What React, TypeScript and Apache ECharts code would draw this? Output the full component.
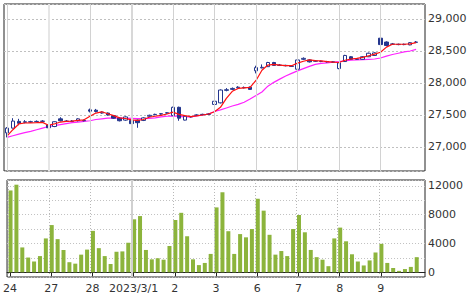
import React, { useEffect, useRef } from 'react';
import * as echarts from 'echarts';

const days = ['2/24', '2/27', '2/28', '3/1', '3/2', '3/3', '3/6', '3/7', '3/8', '3/9'];
const dayLabels = ['24', '27', '28', '2023/3/1', '2', '3', '6', '7', '8', '9'];
const slotsPerDay = 7;

// [open, close, low, high]
const candles: number[][] = [
  [27220, 27295, 27150, 27310], [27295, 27405, 27290, 27450], [27400, 27370, 27340, 27440], [27385, 27395, 27370, 27420],
  [27390, 27395, 27375, 27410], [27395, 27400, 27385, 27415], [27400, 27405, 27390, 27420],
  [27345, 27300, 27280, 27355], [27320, 27395, 27310, 27400], [27440, 27410, 27400, 27465], [27405, 27400, 27390, 27420],
  [27400, 27405, 27390, 27420], [27410, 27440, 27400, 27450], [27415, 27410, 27400, 27430],
  [27580, 27560, 27540, 27600], [27575, 27555, 27540, 27595], [27530, 27545, 27520, 27555], [27530, 27500, 27490, 27540],
  [27490, 27450, 27440, 27500], [27450, 27410, 27400, 27460], [27420, 27470, 27410, 27480],
  [27415, 27365, 27290, 27425], [27420, 27380, 27300, 27430], [27415, 27455, 27405, 27465], [27480, 27495, 27470, 27505],
  [27505, 27510, 27495, 27520], [27515, 27520, 27505, 27530], [27530, 27535, 27520, 27545],
  [27490, 27620, 27485, 27630], [27620, 27450, 27410, 27630], [27420, 27480, 27415, 27490], [27470, 27475, 27460, 27485],
  [27495, 27500, 27485, 27510], [27505, 27510, 27495, 27520], [27510, 27515, 27500, 27525],
  [27665, 27715, 27650, 27725], [27690, 27890, 27680, 27900], [27885, 27895, 27870, 27920], [27900, 27915, 27890, 27930],
  [27925, 27935, 27915, 27950], [27925, 27930, 27915, 27945], [27935, 27900, 27895, 27945],
  [28190, 28240, 28150, 28270], [28235, 28245, 28230, 28290], [28255, 28320, 28250, 28330], [28320, 28275, 28270, 28330],
  [28275, 28280, 28265, 28295], [28270, 28275, 28260, 28285], [28265, 28260, 28250, 28275],
  [28215, 28360, 28205, 28370], [28370, 28385, 28360, 28400], [28360, 28330, 28320, 28370], [28340, 28345, 28330, 28355],
  [28335, 28340, 28325, 28350], [28330, 28335, 28320, 28345], [28325, 28330, 28315, 28340],
  [28225, 28315, 28215, 28325], [28335, 28430, 28330, 28440], [28410, 28370, 28360, 28420], [28370, 28375, 28360, 28385],
  [28370, 28410, 28365, 28420], [28410, 28465, 28405, 28475], [28430, 28470, 28425, 28480],
  [28700, 28600, 28500, 28750], [28640, 28585, 28575, 28650], [28605, 28610, 28595, 28625], [28600, 28605, 28590, 28615],
  [28600, 28605, 28590, 28615], [28595, 28630, 28590, 28640], [28635, 28640, 28625, 28655],
];

const maShort = [
  27170, 27270, 27360, 27375, 27378, 27380, 27385,
  27340, 27360, 27390, 27400, 27405, 27415, 27425,
  27480, 27530, 27550, 27520, 27490, 27455, 27445,
  27425, 27415, 27430, 27465, 27480, 27495, 27515,
  27545, 27510, 27490, 27475, 27485, 27500, 27515,
  27550, 27620, 27760, 27870, 27915, 27925, 27930,
  28040, 28200, 28280, 28290, 28280, 28270, 28270,
  28310, 28340, 28360, 28350, 28345, 28335, 28325,
  28320, 28355, 28375, 28385, 28400, 28425, 28450,
  28480, 28560, 28605, 28605, 28605, 28610, 28630,
];

const maLong = [
  27150, 27175, 27200, 27225, 27245, 27270, 27295,
  27320, 27335, 27350, 27365, 27380, 27390, 27400,
  27410, 27430, 27440, 27450, 27452, 27452, 27450,
  27448, 27445, 27442, 27445, 27455, 27470, 27480,
  27485, 27478, 27470, 27472, 27485, 27500, 27515,
  27555, 27580, 27610, 27640, 27665, 27700, 27750,
  27805, 27860, 27950, 28010, 28060, 28110, 28150,
  28190, 28225, 28260, 28290, 28305, 28315, 28325,
  28333, 28345, 28355, 28360, 28365, 28370, 28375,
  28390, 28420, 28445, 28465, 28485, 28500, 28525,
];

const volumes = [
  11350, 12150, 3450, 2050, 1500, 2250, 4700,
  6550, 4600, 3100, 1400, 1200, 2450, 3150,
  5750, 3350, 2250, 1150, 2850, 2900, 4100,
  7350, 7800, 3100, 1800, 1950, 1750, 3650,
  7250, 8250, 5000, 1800, 1000, 1300, 2550,
  9000, 11100, 5700, 2550, 5300, 4850, 6000,
  10200, 8550, 5200, 2450, 2950, 2250, 6000,
  7950, 5550, 3100, 2100, 1750, 850, 4700,
  6200, 4300, 2500, 1500, 950, 1650, 2750,
  3950, 1300, 600, 200, 450, 750, 2100,
];

const categories: string[] = [];
days.forEach((d) => {
  for (let s = 0; s < slotsPerDay; s++) categories.push(`${d} #${s + 1}`);
});
categories.push('next');

const isDayStart = (index: number) => index % slotsPerDay === 0 && index < days.length * slotsPerDay;

export default function App() {
  const ref = useRef<HTMLDivElement>(null);
  useEffect(() => {
    if (!ref.current) return;
    const chart = echarts.init(ref.current, undefined, { renderer: 'svg' });
    const font = 'DejaVu Sans, Verdana, sans-serif';
    const mainVLines = days.map((d, i) => ({
      xAxis: i * slotsPerDay,
      lineStyle: {
        color: i === 1 ? '#e6e6e6' : i === 3 ? '#d8d8d8' : '#d2d2d2',
        width: i === 1 || i === 3 ? 2 : 1,
        type: 'solid' as const,
      },
    }));
    const volVLines = days.map((d, i) => ({
      xAxis: i * slotsPerDay,
      lineStyle: {
        color: i === 3 ? '#d0d0d0' : '#b8b8b8',
        width: i === 3 ? 2 : 1,
        type: i === 3 ? ('solid' as const) : ([1, 2] as any),
      },
    }));
    const pad = (arr: any[], v: any) => [...arr, v];
    chart.setOption({
      animation: false,
      backgroundColor: '#ffffff',
      grid: [
        { left: 4, top: 4, width: 421, height: 167, show: true, borderColor: '#222', borderWidth: 1, backgroundColor: 'transparent' },
        { left: 4, top: 180, width: 421, height: 97, show: true, borderColor: '#222', borderWidth: 1, backgroundColor: 'transparent' },
      ],
      xAxis: [
        {
          type: 'category', gridIndex: 0, data: categories, boundaryGap: true,
          axisLine: { show: false }, axisTick: { show: false }, axisLabel: { show: false }, splitLine: { show: false },
        },
        {
          type: 'category', gridIndex: 1, data: categories, boundaryGap: true,
          axisLine: { show: true, lineStyle: { color: '#222' } },
          axisTick: { show: true, alignWithLabel: true, interval: isDayStart, length: 4, lineStyle: { color: '#222' } },
          axisLabel: {
            show: true, interval: isDayStart, margin: 6, fontSize: 11, fontFamily: font, color: '#333',
            formatter: (_v: string, index: number) => (isDayStart(index) ? dayLabels[index / slotsPerDay] : ''),
          },
          splitLine: { show: false },
        },
      ],
      yAxis: [
        {
          type: 'value', gridIndex: 0, position: 'right', min: 26625, max: 29234, splitNumber: 5,
          axisLine: { show: false }, axisTick: { show: false },
          axisLabel: { showMinLabel: false, showMaxLabel: false, fontSize: 11, fontFamily: font, color: '#333', margin: 3 },
          splitLine: { show: true, lineStyle: { color: '#c0c0c0', type: [2, 2], width: 1 } },
        },
        {
          type: 'value', gridIndex: 1, position: 'right', min: -650, max: 12800, splitNumber: 7,
          axisLine: { show: false }, axisTick: { show: false },
          axisLabel: {
            showMinLabel: false, showMaxLabel: false, fontSize: 11, fontFamily: font, color: '#333', margin: 3,
            formatter: (v: number) => (v % 4000 === 0 ? String(v) : ''),
          },
          splitLine: { show: true, lineStyle: { color: '#c0c0c0', type: [1, 2], width: 1 } },
        },
      ],
      series: [
        {
          type: 'bar', xAxisIndex: 0, yAxisIndex: 0, data: [], z: 0, silent: true,
          markLine: { silent: true, symbol: 'none', label: { show: false }, animation: false, data: mainVLines },
        },
        {
          type: 'bar', xAxisIndex: 1, yAxisIndex: 1, data: [], z: 0, silent: true,
          markLine: { silent: true, symbol: 'none', label: { show: false }, animation: false, data: volVLines },
        },
        {
          type: 'line', xAxisIndex: 0, yAxisIndex: 0, data: pad(maLong, null), symbol: 'none',
          lineStyle: { color: '#ff22ff', width: 1.2 }, z: 2,
        },
        {
          type: 'candlestick', xAxisIndex: 0, yAxisIndex: 0, barWidth: 4,
          data: pad(candles, '-'),
          itemStyle: { color: '#ffffff', color0: '#24368e', borderColor: '#24368e', borderColor0: '#24368e', borderWidth: 1 },
          z: 3,
        },
        {
          type: 'line', xAxisIndex: 0, yAxisIndex: 0, data: pad(maShort, null), symbol: 'none',
          lineStyle: { color: '#ff1010', width: 1.2 }, z: 4,
        },
        {
          type: 'bar', xAxisIndex: 1, yAxisIndex: 1, barWidth: 4, data: pad(volumes, '-'),
          itemStyle: { color: '#8cb43c' }, z: 3,
        },
      ],
    });
    return () => chart.dispose();
  }, []);
  return <div ref={ref} style={{ position: 'absolute', left: 0, top: 0, width: 470, height: 295 }} />;
}
